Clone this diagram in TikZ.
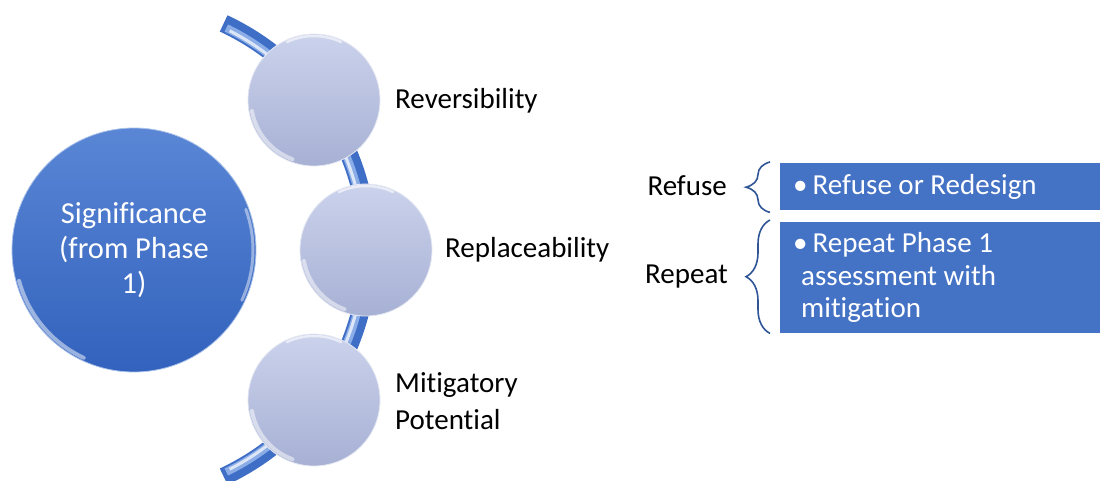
\documentclass[tikz,border=0pt]{standalone}
\usepackage{fontspec}
\setmainfont{Carlito}[Ligatures={NoCommon,NoContextual,NoRequired}]
\usetikzlibrary{decorations.pathreplacing,calc}
\definecolor{accent}{HTML}{4472C4}
\definecolor{bigtop}{HTML}{5A86D5}
\definecolor{bigbot}{HTML}{3262BD}
\definecolor{smalltop}{HTML}{CBD2EC}
\definecolor{smallbot}{HTML}{A7B1D4}
\definecolor{arcblue}{HTML}{3F6EC6}
\definecolor{arclight}{HTML}{9DBDF0}
\definecolor{bracecol}{HTML}{2F5597}
\tikzset{
  bigball/.style={circle, minimum size=244pt, inner sep=0pt, top color=bigtop, bottom color=bigbot, draw=white!50!bigtop, line width=0.8pt, text=white, align=center, font=\fontsize{30.5}{35}\selectfont},
  smallball/.style={circle, minimum size=132pt, inner sep=0pt, top color=smalltop, bottom color=smallbot, draw=white!70!smallbot, line width=0.8pt},
  lbl/.style={anchor=west, inner sep=0pt, text=black, align=left, font=\fontsize{29}{37}\selectfont},
  rlbl/.style={anchor=east, inner sep=0pt, text=black, font=\fontsize{29}{35}\selectfont},
  bluebox/.style={rectangle, fill=accent, text=white, anchor=north west, minimum width=320pt, inner xsep=13pt, inner ysep=0pt, text width=294pt, align=flush left, font=\fontsize{29}{32.5}\selectfont},
  bracestyle/.style={draw=bracecol, line width=1.6pt, decorate, decoration={brace, amplitude=24pt}},
  rim/.style={white, line width=4pt, opacity=0.5, line cap=round}
}
\begin{document}
\begin{tikzpicture}[x=1pt,y=1pt]
\useasboundingbox (0,-481) rectangle (1100,0);
% arc behind the small circles
\coordinate (arcc) at (118,-250);
\draw[line width=18pt, arcblue] ([shift={(65:250)}]arcc) arc[start angle=65, end angle=-65, radius=250];
\draw[line width=8pt, arclight, opacity=0.8] ([shift={(64:247)}]arcc) arc[start angle=64, end angle=-64, radius=247];
\draw[line width=3pt, white, opacity=0.7] ([shift={(63:246)}]arcc) arc[start angle=63, end angle=-63, radius=246];
% big circle
\node[bigball] (sig) at (134,-250) {Significance\\(from Phase\\1)};
\draw[rim] ([shift={(195:119)}]sig.center) arc[start angle=195, end angle=245, radius=119];
\draw[white, line width=3pt, opacity=0.45, line cap=round] ([shift={(-25:119)}]sig.center) arc[start angle=-25, end angle=20, radius=119];
% small circles
\node[smallball] (c1) at (314,-100) {};
\node[smallball] (c2) at (366,-250) {};
\node[smallball] (c3) at (314,-400) {};
\foreach \c in {c1,c2,c3}{
  \draw[rim] ([shift={(190:63)}]\c.center) arc[start angle=190, end angle=250, radius=63];
  \draw[white, line width=2.5pt, opacity=0.6, line cap=round] ([shift={(65:64)}]\c.center) arc[start angle=65, end angle=115, radius=64];
}
% labels
\node[lbl] (l1) at (395,-101) {Reversibility};
\node[lbl] (l2) at (445,-250) {Replaceability};
\node[lbl] (l3) at (395,-401) {Mitigatory\\Potential};
% boxes
\node[bluebox, minimum height=47pt] (b1) at (780,-163) {•\hspace{5pt}Refuse or Redesign};
\node[bluebox, minimum height=111pt] (b2) at (780,-222) {•\hspace{5pt}Repeat Phase 1\\\hspace*{8pt}assessment with\\\hspace*{8pt}mitigation};
% braces
\draw[bracestyle] ($(b1.south west)+(-10,-2)$) -- ($(b1.north west)+(-10,1)$);
\draw[bracestyle] ($(b2.south west)+(-10,0)$) -- ($(b2.north west)+(-10,2)$);
\node[rlbl] (r1) at (727,-186) {Refuse};
\node[rlbl] (r2) at (728,-277) {Repeat};
\end{tikzpicture}
\end{document}
